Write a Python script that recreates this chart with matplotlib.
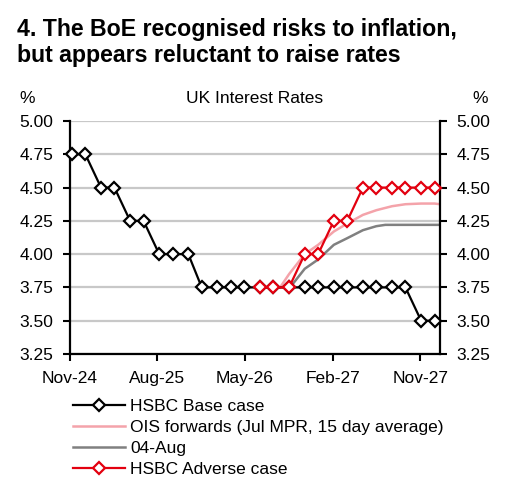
import matplotlib
matplotlib.use('Agg')
import matplotlib.pyplot as plt
import pandas

plt.rcParams['font.family'] = ['Liberation Sans', 'DejaVu Sans']

# MPC meeting dates and the two HSBC paths
meetings = ['2024-11-07', '2024-12-19', '2025-02-06', '2025-03-20', '2025-05-08', '2025-06-19',
            '2025-08-07', '2025-09-18', '2025-11-06', '2025-12-18', '2026-02-05', '2026-03-19',
            '2026-04-30', '2026-06-18', '2026-07-30', '2026-09-17', '2026-11-05', '2026-12-17',
            '2027-02-04', '2027-03-18', '2027-05-06', '2027-06-17', '2027-08-05', '2027-09-16',
            '2027-11-04', '2027-12-16']
base_case = [4.75, 4.75, 4.50, 4.50, 4.25, 4.25, 4.00, 4.00, 4.00, 3.75, 3.75, 3.75, 3.75,
             3.75, 3.75, 3.75, 3.75, 3.75, 3.75, 3.75, 3.75, 3.75, 3.75, 3.75, 3.50, 3.50]
adverse_dates = meetings[13:]
adverse_case = [3.75, 3.75, 3.75, 4.00, 4.00, 4.25, 4.25, 4.50, 4.50, 4.50, 4.50, 4.50, 4.50]

ois_dates = ['2026-08-20', '2026-09-17', '2026-11-05', '2026-12-17', '2027-02-04', '2027-03-18',
             '2027-05-06', '2027-06-17', '2027-08-05', '2027-09-16', '2027-11-04', '2027-12-16',
             '2028-01-02']
ois_jul = [3.75, 3.85, 4.00, 4.07, 4.17, 4.23, 4.295, 4.33, 4.36, 4.375, 4.38, 4.38, 4.375]

aug_dates = ['2026-09-20', '2026-11-05', '2026-12-17', '2027-02-04', '2027-03-18', '2027-05-06',
             '2027-06-17', '2027-07-15', '2027-09-16', '2027-11-04', '2028-01-02']
ois_aug = [3.75, 3.89, 3.96, 4.07, 4.12, 4.18, 4.21, 4.22, 4.22, 4.22, 4.22]

yticks = [3.25, 3.50, 3.75, 4.00, 4.25, 4.50, 4.75, 5.00]
xticks = ['2024-11-01', '2025-08-01', '2026-05-01', '2027-02-01', '2027-11-01']
xticklabels = ['Nov-24', 'Aug-25', 'May-26', 'Feb-27', 'Nov-27']

red = '#e3000f'
pink = '#f4a3aa'
grey = '#808080'

fig = plt.figure(figsize=(5.07, 4.86), dpi=100)
ax = fig.add_axes([70/507, 1-354/486, 370/507, 233/486])

ax.plot(pandas.to_datetime(meetings), base_case, color='black', lw=1.6, marker='D', ms=6,
        mfc='white', mec='black', mew=1.6, zorder=4, clip_on=False, label='HSBC Base case')
ax.plot(pandas.to_datetime(ois_dates), ois_jul, color=pink, lw=1.8, zorder=2,
        label='OIS forwards (Jul MPR, 15 day average)')
ax.plot(pandas.to_datetime(aug_dates), ois_aug, color=grey, lw=1.8, zorder=2, label='04-Aug')
ax.plot(pandas.to_datetime(adverse_dates), adverse_case, color=red, lw=1.6, marker='D', ms=6,
        mfc='white', mec=red, mew=1.6, zorder=5, clip_on=False, label='HSBC Adverse case')

ax.set_xlim(pandas.Timestamp('2024-11-01'), pandas.Timestamp('2028-01-02'))
ax.set_ylim(3.25, 5.00)
ax.set_yticks(yticks)
ax.set_yticklabels(['{:.2f}'.format(v) for v in yticks])
ax.set_xticks(pandas.to_datetime(xticks))
ax.set_xticklabels(xticklabels)

ax.grid(True, axis='y', color='#c8c8c8', lw=1.6, zorder=0)
ax.set_axisbelow(True)
ax.spines['top'].set_visible(False)
for s in ['left', 'right', 'bottom']:
    ax.spines[s].set_linewidth(1.6)
ax.tick_params(axis='both', direction='out', length=5, width=1.5, labelsize=12.5, pad=7)
ax.tick_params(axis='y', right=True, labelright=True)

fig.text(17/507, 1-36/486, '4. The BoE recognised risks to inflation,', fontsize=16.7,
         fontweight='bold', ha='left', va='baseline')
fig.text(17/507, 1-62/486, 'but appears reluctant to raise rates', fontsize=16.7,
         fontweight='bold', ha='left', va='baseline')
fig.text(255/507, 1-103/486, 'UK Interest Rates', fontsize=12.5, ha='center', va='baseline')
fig.text(27/507, 1-103/486, '%', fontsize=12.5, ha='center', va='baseline')
fig.text(480/507, 1-103/486, '%', fontsize=12.5, ha='center', va='baseline')

fig.legend(loc='upper left', bbox_to_anchor=(73/507, 1-399/486), frameon=False,
           fontsize=12.5, handlelength=3.0, handletextpad=0.3, labelspacing=0.33,
           borderpad=0, borderaxespad=0)

fig.savefig('out.png', dpi=100)
